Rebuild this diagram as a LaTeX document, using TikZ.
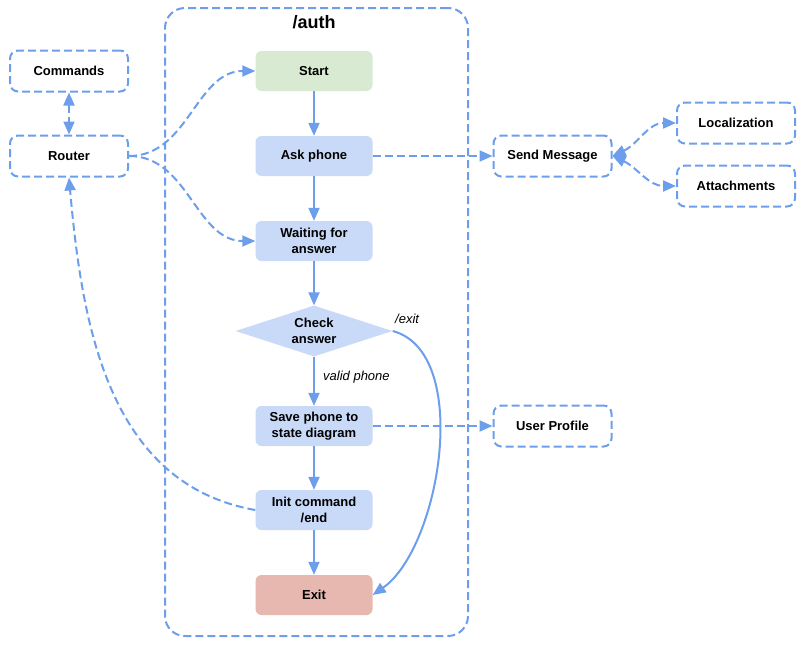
\documentclass[tikz,border=0pt]{standalone}
\usepackage{fontspec}
\setmainfont{Liberation Sans}
\usetikzlibrary{positioning,shapes.geometric,arrows.meta}
\definecolor{lineblue}{HTML}{6D9EEB}
\definecolor{stateblue}{HTML}{C9DAF8}
\definecolor{startgreen}{HTML}{D9EAD3}
\definecolor{exitred}{HTML}{E6B8AF}

\begin{document}
\begin{tikzpicture}[x=1pt, y=1pt, >={Triangle[length=13pt,width=11pt]},
	font=\fontsize{13}{16}\selectfont\bfseries,
	state/.style={fill=stateblue, rounded corners=6pt, minimum width=117pt, minimum height=40pt, align=center, inner sep=2pt},
	module/.style={draw=lineblue, line width=2pt, dash pattern=on 8pt off 4pt, rounded corners=8pt, minimum width=118pt, minimum height=41pt, align=center, inner sep=2pt},
	flow/.style={draw=lineblue, line width=2pt, ->},
	link/.style={flow, dash pattern=on 8pt off 4pt},
	cond/.style={font=\fontsize{13}{16}\selectfont\mdseries\itshape, inner sep=0pt}]
	\useasboundingbox (0,0) rectangle (803,-645);
	\node[module, rounded corners=20pt, minimum width=303pt, minimum height=628pt] (auth) at (316.5,-322) {};
	\node[font=\fontsize{18}{20}\selectfont\bfseries] (title) at (314,-22) {/auth};

	\node[state, fill=startgreen] (start) at (314,-71) {Start};
	\node[state] (ask) at (314,-156) {Ask phone};
	\node[state] (wait) at (314,-241) {Waiting for\\answer};
	\node[diamond, fill=stateblue, shape aspect=3, inner sep=0pt, minimum width=157pt, minimum height=51pt, align=center] (check) at (314,-331) {Check\\answer};
	\node[state] (save) at (314,-426) {Save phone to\\state diagram};
	\node[state] (init) at (314,-510) {Init command\\/end};
	\node[state, fill=exitred] (exit) at (314,-595) {Exit};

	\node[module] (commands) at (69,-71) {Commands};
	\node[module] (router) at (69,-156) {Router};
	\node[module] (send) at (552.5,-156) {Send Message};
	\node[module] (local) at (736,-123) {Localization};
	\node[module] (attach) at (736,-186) {Attachments};
	\node[module] (profile) at (552.5,-426) {User Profile};

	\node[cond, anchor=west] (valid) at (323,-377) {valid phone};
	\node[cond, anchor=west] (quit) at (395,-319) {/exit};

	\draw[flow] (start) -- (ask);
	\draw[flow] (ask) -- (wait);
	\draw[flow] (wait) -- (check);
	\draw[flow] (check) -- (save);
	\draw[flow] (save) -- (init);
	\draw[flow] (init) -- (exit);
	\draw[flow] (check.east) to[out=-15, in=35, looseness=0.8] (exit.east);

	\draw[link, <->] (commands) -- (router);
	\draw[link] (router.east) to[out=0, in=180] (start.west);
	\draw[link] (router.east) to[out=0, in=180] (wait.west);
	\draw[link] (init.west) to[out=170, in=-85] (router.south);
	\draw[link] (ask) -- (send);
	\draw[link] (save) -- (profile);
	\draw[link, <->] (send.east) to[out=25, in=180] (local.west);
	\draw[link, <->] (send.east) to[out=-25, in=180] (attach.west);
\end{tikzpicture}
\end{document}
